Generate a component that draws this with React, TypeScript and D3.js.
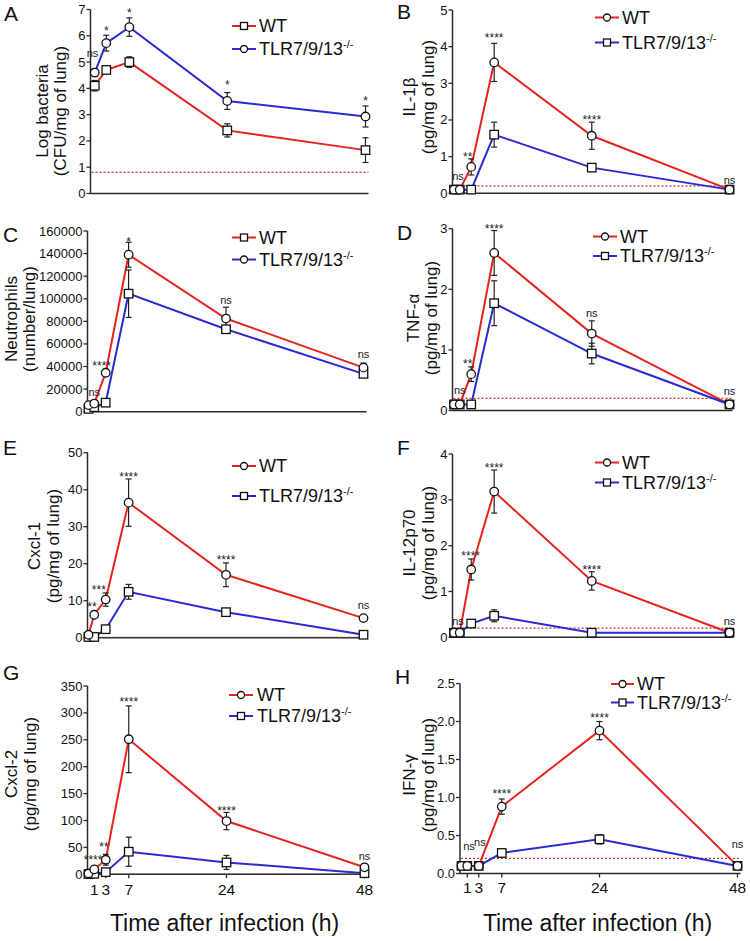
import React from "react";
import * as d3 from "d3";

// ---------- DATA ----------
const TIMES = [0, 1, 3, 7, 24, 48];
const TIMES_A = [1, 3, 7, 24, 48];
const X_TICKS = [1, 3, 7, 24, 48];

const A_WT = [4.1, 4.7, 5.0, 2.4, 1.65];
const A_WT_ERR = [0.2, 0.12, 0.2, 0.25, 0.47];
const A_TLR = [4.6, 5.72, 6.33, 3.52, 2.93];
const A_TLR_ERR = [0.15, 0.3, 0.35, 0.32, 0.4];

const B_WT = [0.1, 0.1, 0.72, 3.57, 1.57, 0.1];
const B_WT_ERR = [0, 0, 0.22, 0.52, 0.37, 0];
const B_TLR = [0.1, 0.1, 0.1, 1.6, 0.7, 0.1];
const B_TLR_ERR = [0, 0, 0, 0.34, 0.1, 0];

const C_WT = [5800, 7200, 34500, 139000, 82500, 39000];
const C_WT_ERR = [0, 0, 3000, 11000, 10000, 4000];
const C_TLR = [2500, 4000, 8000, 104500, 73000, 33500];
const C_TLR_ERR = [0, 0, 1000, 21000, 3000, 2500];

const D_WT = [0.1, 0.1, 0.6, 2.6, 1.27, 0.1];
const D_WT_ERR = [0, 0, 0.12, 0.37, 0.21, 0];
const D_TLR = [0.1, 0.1, 0.1, 1.77, 0.94, 0.1];
const D_TLR_ERR = [0, 0, 0, 0.37, 0.17, 0];

const E_WT = [0.8, 6.2, 10.3, 36.5, 17, 5.3];
const E_WT_ERR = [0, 0, 1.8, 6.4, 3.2, 0];
const E_TLR = [0.2, 0.2, 2.3, 12.4, 6.9, 0.8];
const E_TLR_ERR = [0, 0, 0, 2.0, 0.8, 0];

const F_WT = [0.1, 0.1, 1.48, 3.18, 1.23, 0.1];
const F_WT_ERR = [0, 0, 0.23, 0.47, 0.2, 0];
const F_TLR = [0.1, 0.1, 0.3, 0.47, 0.1, 0.1];
const F_TLR_ERR = [0, 0, 0, 0.13, 0, 0];

const G_WT = [1.5, 9, 27, 251, 99, 13];
const G_WT_ERR = [0, 0, 10, 62, 16, 0];
const G_TLR = [0.5, 1, 4, 42, 22, 2];
const G_TLR_ERR = [0, 0, 0, 27, 13, 0];

const H_WT = [0.1, 0.1, 0.1, 0.88, 1.88, 0.1];
const H_WT_ERR = [0, 0, 0, 0.1, 0.12, 0];
const H_TLR = [0.1, 0.1, 0.1, 0.27, 0.45, 0.1];
const H_TLR_ERR = [0, 0, 0, 0.05, 0.06, 0];

const A_SIG = [
  { t: 0.6, v: 5.2, text: "ns" },
  { t: 3, v: 6.04, text: "*" },
  { t: 7, v: 6.71, text: "*" },
  { t: 24, v: 3.96, text: "*" },
  { t: 48, v: 3.35, text: "*" },
];
const B_SIG = [
  { t: 0.7, v: 0.36, text: "ns" },
  { t: 2.4, v: 0.88, text: "**" },
  { t: 7, v: 4.13, text: "****" },
  { t: 24, v: 1.88, text: "****" },
  { t: 48, v: 0.25, text: "ns" },
];
const C_SIG = [
  { t: 1, v: 14000, text: "ns" },
  { t: 2.3, v: 37200, text: "****" },
  { t: 7, v: 146600, text: "*" },
  { t: 24, v: 95300, text: "ns" },
  { t: 48, v: 47200, text: "ns" },
];
const D_SIG = [
  { t: 1, v: 0.28, text: "ns" },
  { t: 2.4, v: 0.7, text: "**" },
  { t: 7, v: 2.93, text: "****" },
  { t: 24, v: 1.55, text: "ns" },
  { t: 48, v: 0.26, text: "ns" },
];
const E_SIG = [
  { t: 0.6, v: 7.2, text: "**" },
  { t: 1.8, v: 11.9, text: "***" },
  { t: 7, v: 42.4, text: "****" },
  { t: 24, v: 19.8, text: "****" },
  { t: 48, v: 7.7, text: "ns" },
];
const F_SIG = [
  { t: 0.7, v: 0.27, text: "ns" },
  { t: 2.9, v: 1.68, text: "****" },
  { t: 7, v: 3.61, text: "****" },
  { t: 24, v: 1.39, text: "****" },
  { t: 48, v: 0.27, text: "ns" },
];
const G_SIG = [
  { t: 0.8, v: 19, text: "****" },
  { t: 2.7, v: 43, text: "**" },
  { t: 7, v: 313, text: "****" },
  { t: 24, v: 110, text: "****" },
  { t: 48, v: 26.6, text: "ns" },
];
const H_SIG = [
  { t: 1.3, v: 0.31, text: "ns" },
  { t: 3.2, v: 0.36, text: "ns" },
  { t: 7, v: 0.99, text: "****" },
  { t: 24, v: 2.0, text: "****" },
  { t: 48, v: 0.33, text: "ns" },
];

// ---------- STYLE ----------
const RED = "#e6231f";
const BLUE = "#2a2ad2";
const AXIS = "#2b2b2b";
const FONT = "'Liberation Sans', Arial, Helvetica, sans-serif";

type Sig = { t: number; v: number; text: string };
type Cfg = {
  letter: string; lx: number; ly: number;
  x0: number; x48: number; axisX: number;
  yMax: number; y0: number; yTop: number; step: number; fmt: (n: number) => string;
  times: number[]; wt: number[]; wtErr: number[]; tlr: number[]; tlrErr: number[];
  wtM: string; tlrM: string; legWtM: string; legTlrM: string;
  dotted: number; dottedColor: string;
  sig: Sig[];
  leg: { x1: number; x2: number; tx: number; y1: number; y2: number };
  ylab: [string, string]; ylabX: [number, number]; ylabY: number;
  xTicks?: number; xTitle?: number;
};

const intFmt = d3.format("d");
const oneFmt = d3.format(".1f");

const panels: Cfg[] = [
  {
    letter: "A", lx: 4, ly: 21, x0: 89, x48: 365.5, axisX: 90.5,
    yMax: 7, y0: 193.5, yTop: 9.5, step: 1, fmt: intFmt,
    times: TIMES_A, wt: A_WT, wtErr: A_WT_ERR, tlr: A_TLR, tlrErr: A_TLR_ERR,
    wtM: "square", tlrM: "circle", legWtM: "square", legTlrM: "circle",
    dotted: 0.8, dottedColor: "#d2322d", sig: A_SIG,
    leg: { x1: 232, x2: 256, tx: 259, y1: 32, y2: 55 },
    ylab: ["Log bacteria", "(CFU/mg of lung)"], ylabX: [48, 66], ylabY: 111,
  },
  {
    letter: "B", lx: 397, ly: 19, x0: 454, x48: 729.5, axisX: 452.5,
    yMax: 5, y0: 193.3, yTop: 10, step: 1, fmt: intFmt,
    times: TIMES, wt: B_WT, wtErr: B_WT_ERR, tlr: B_TLR, tlrErr: B_TLR_ERR,
    wtM: "circle", tlrM: "square", legWtM: "circle", legTlrM: "square",
    dotted: 0.2, dottedColor: "#d2322d", sig: B_SIG,
    leg: { x1: 595, x2: 619, tx: 622, y1: 23.5, y2: 48.5 },
    ylab: ["IL-1β", "(pg/mg of lung)"], ylabX: [415, 434], ylabY: 97,
  },
  {
    letter: "C", lx: 3, ly: 242, x0: 88.5, x48: 363.5, axisX: 87.5,
    yMax: 160000, y0: 411.7, yTop: 231, step: 20000, fmt: intFmt,
    times: TIMES, wt: C_WT, wtErr: C_WT_ERR, tlr: C_TLR, tlrErr: C_TLR_ERR,
    wtM: "circle", tlrM: "square", legWtM: "square", legTlrM: "circle",
    dotted: -1, dottedColor: "#d2322d", sig: C_SIG,
    leg: { x1: 232, x2: 256, tx: 259, y1: 243.5, y2: 265.5 },
    ylab: ["Neutrophils", "(number/lung)"], ylabX: [17, 35], ylabY: 319,
  },
  {
    letter: "D", lx: 397, ly: 240, x0: 454, x48: 729.5, axisX: 452.5,
    yMax: 3, y0: 410.5, yTop: 228.7, step: 1, fmt: intFmt,
    times: TIMES, wt: D_WT, wtErr: D_WT_ERR, tlr: D_TLR, tlrErr: D_TLR_ERR,
    wtM: "circle", tlrM: "square", legWtM: "circle", legTlrM: "square",
    dotted: 0.2, dottedColor: "#d2322d", sig: D_SIG,
    leg: { x1: 593, x2: 617, tx: 620, y1: 242.5, y2: 262 },
    ylab: ["TNF-α", "(pg/mg of lung)"], ylabX: [419, 437], ylabY: 318,
  },
  {
    letter: "E", lx: 3, ly: 455, x0: 88.5, x48: 363.5, axisX: 87.5,
    yMax: 50, y0: 637.7, yTop: 452.7, step: 10, fmt: intFmt,
    times: TIMES, wt: E_WT, wtErr: E_WT_ERR, tlr: E_TLR, tlrErr: E_TLR_ERR,
    wtM: "circle", tlrM: "square", legWtM: "circle", legTlrM: "square",
    dotted: 0.1, dottedColor: "#5a3a3a", sig: E_SIG,
    leg: { x1: 232, x2: 256, tx: 259, y1: 472, y2: 502 },
    ylab: ["Cxcl-1", "(pg/mg of lung)"], ylabX: [40, 59], ylabY: 546,
  },
  {
    letter: "F", lx: 397, ly: 455, x0: 454, x48: 729.5, axisX: 452.5,
    yMax: 4, y0: 637.3, yTop: 454, step: 1, fmt: intFmt,
    times: TIMES, wt: F_WT, wtErr: F_WT_ERR, tlr: F_TLR, tlrErr: F_TLR_ERR,
    wtM: "circle", tlrM: "square", legWtM: "circle", legTlrM: "square",
    dotted: 0.2, dottedColor: "#d2322d", sig: F_SIG,
    leg: { x1: 595, x2: 619, tx: 622, y1: 468.5, y2: 488.5 },
    ylab: ["IL-12p70", "(pg/mg of lung)"], ylabX: [415, 434], ylabY: 543,
  },
  {
    letter: "G", lx: 3, ly: 680, x0: 88.5, x48: 364.5, axisX: 87.5,
    yMax: 350, y0: 874.3, yTop: 686, step: 50, fmt: intFmt,
    times: TIMES, wt: G_WT, wtErr: G_WT_ERR, tlr: G_TLR, tlrErr: G_TLR_ERR,
    wtM: "circle", tlrM: "square", legWtM: "circle", legTlrM: "square",
    dotted: 0.5, dottedColor: "#5a3a3a", sig: G_SIG,
    leg: { x1: 229, x2: 253, tx: 257, y1: 701, y2: 722 },
    ylab: ["Cxcl-2", "(pg/mg of lung)"], ylabX: [17, 36], ylabY: 774,
    xTicks: 895, xTitle: 931,
  },
  {
    letter: "H", lx: 395, ly: 684, x0: 461.5, x48: 737.5, axisX: 460,
    yMax: 2.5, y0: 873.5, yTop: 683.5, step: 0.5, fmt: oneFmt,
    times: TIMES, wt: H_WT, wtErr: H_WT_ERR, tlr: H_TLR, tlrErr: H_TLR_ERR,
    wtM: "circle", tlrM: "square", legWtM: "circle", legTlrM: "square",
    dotted: 0.2, dottedColor: "#d2322d", sig: H_SIG,
    leg: { x1: 611, x2: 634, tx: 637, y1: 690, y2: 708.5 },
    ylab: ["IFN-γ", "(pg/mg of lung)"], ylabX: [415, 434], ylabY: 775,
    xTicks: 893, xTitle: 931,
  },
];

function Marker({ kind, x, y, size }: { kind: string; x: number; y: number; size: number }) {
  if (kind === "circle") {
    return <circle cx={x} cy={y} r={size / 2} fill="#fff" stroke="#111" strokeWidth={1.3} />;
  }
  return (
    <rect x={x - size / 2} y={y - size / 2} width={size} height={size} fill="#fff" stroke="#111" strokeWidth={1.3} />
  );
}

function Panel({ c }: { c: Cfg }) {
  const x = d3.scaleLinear().domain([0, 48]).range([c.x0, c.x48]);
  const y = d3.scaleLinear().domain([0, c.yMax]).range([c.y0, c.yTop]);
  const ticks = d3.range(0, c.yMax + c.step / 2, c.step);
  const line = d3
    .line<number>()
    .x((_, i) => 0)
    .y(() => 0);
  const mk = (vals: number[]) =>
    d3
      .line<[number, number]>()
      .x((d) => x(d[0]))
      .y((d) => y(d[1]))(c.times.map((t, i) => [t, vals[i]] as [number, number])) || "";
  void line;
  const errBars = (vals: number[], errs: number[], key: string) =>
    c.times.map((t, i) =>
      errs[i] > 0 ? (
        <g key={key + i} stroke="#222" strokeWidth={1.2}>
          <line x1={x(t)} x2={x(t)} y1={y(vals[i] - errs[i])} y2={y(vals[i] + errs[i])} />
          <line x1={x(t) - 3} x2={x(t) + 3} y1={y(vals[i] + errs[i])} y2={y(vals[i] + errs[i])} />
          <line x1={x(t) - 3} x2={x(t) + 3} y1={y(vals[i] - errs[i])} y2={y(vals[i] - errs[i])} />
        </g>
      ) : null
    );
  const xEnd = x(48) + 3;
  const L = c.leg;
  const lm = (L.x1 + L.x2) / 2;
  return (
    <g fontFamily={FONT}>
      <text x={c.lx} y={c.ly} fontSize={21} fill="#111">{c.letter}</text>
      {/* y axis */}
      <line x1={c.axisX} x2={c.axisX} y1={c.y0} y2={c.yTop} stroke={AXIS} strokeWidth={1.5} />
      {ticks.map((t) => (
        <g key={t}>
          <line x1={c.axisX - 4} x2={c.axisX} y1={y(t)} y2={y(t)} stroke={AXIS} strokeWidth={1.3} />
          <text x={c.axisX - 5} y={y(t) + 4.5} fontSize={13} textAnchor="end" fill="#111">
            {c.fmt(t)}
          </text>
        </g>
      ))}
      {/* x axis */}
      <line x1={c.axisX} x2={xEnd} y1={c.y0} y2={c.y0} stroke={AXIS} strokeWidth={1.5} />
      {c.xTicks &&
        X_TICKS.map((t) => (
          <g key={"xt" + t}>
            <line x1={x(t)} x2={x(t)} y1={c.y0} y2={c.y0 + 4} stroke={AXIS} strokeWidth={1.3} />
            <text x={x(t)} y={c.xTicks} fontSize={15.5} textAnchor="middle" fill="#111">{t}</text>
          </g>
        ))}
      {c.xTitle && (
        <text x={(c.x0 + c.x48) / 2 - 2} y={c.xTitle} fontSize={23} textAnchor="middle" fill="#111">
          Time after infection (h)
        </text>
      )}
      {/* y label */}
      <text transform={`translate(${c.ylabX[0]},${c.ylabY}) rotate(-90)`} fontSize={17} textAnchor="middle" fill="#111">
        {c.ylab[0]}
      </text>
      <text transform={`translate(${c.ylabX[1]},${c.ylabY}) rotate(-90)`} fontSize={17} textAnchor="middle" fill="#111">
        {c.ylab[1]}
      </text>
      {/* dotted LOD line */}
      {c.dotted >= 0 && (
        <line x1={c.axisX + 1} x2={xEnd} y1={y(c.dotted)} y2={y(c.dotted)} stroke={c.dottedColor} strokeWidth={1.2} strokeDasharray="2,2" />
      )}
      {/* lines */}
      <path d={mk(c.wt)} fill="none" stroke={RED} strokeWidth={2} />
      <path d={mk(c.tlr)} fill="none" stroke={BLUE} strokeWidth={2} />
      {errBars(c.wt, c.wtErr, "we")}
      {errBars(c.tlr, c.tlrErr, "te")}
      {c.times.map((t, i) => (
        <Marker key={"tm" + i} kind={c.tlrM} x={x(t)} y={y(c.tlr[i])} size={8.5} />
      ))}
      {c.times.map((t, i) => (
        <Marker key={"wm" + i} kind={c.wtM} x={x(t)} y={y(c.wt[i])} size={8.5} />
      ))}
      {/* significance */}
      {c.sig.map((s, i) => (
        <text key={"s" + i} x={x(s.t)} y={y(s.v)} fontSize={s.text === "ns" ? 11 : 12} textAnchor="middle" fill="#222">
          {s.text}
        </text>
      ))}
      {/* legend */}
      <line x1={L.x1} x2={L.x2} y1={L.y1 - 6} y2={L.y1 - 6} stroke={RED} strokeWidth={2} />
      <Marker kind={c.legWtM} x={lm} y={L.y1 - 6} size={7} />
      <text x={L.tx} y={L.y1} fontSize={18} fill="#111">WT</text>
      <line x1={L.x1} x2={L.x2} y1={L.y2 - 6} y2={L.y2 - 6} stroke={BLUE} strokeWidth={2} />
      <Marker kind={c.legTlrM} x={lm} y={L.y2 - 6} size={7} />
      <text x={L.tx} y={L.y2} fontSize={18} fill="#111">
        TLR7/9/13<tspan dy={-7} fontSize={11}>-/-</tspan>
      </text>
    </g>
  );
}

export default function App() {
  return (
    <div style={{ position: "absolute", left: 0, top: 0 }}>
      <svg width={750} height={941} viewBox="0 0 750 941" style={{ display: "block", background: "#fff" }}>
        {panels.map((p) => (
          <Panel key={p.letter} c={p} />
        ))}
      </svg>
    </div>
  );
}
